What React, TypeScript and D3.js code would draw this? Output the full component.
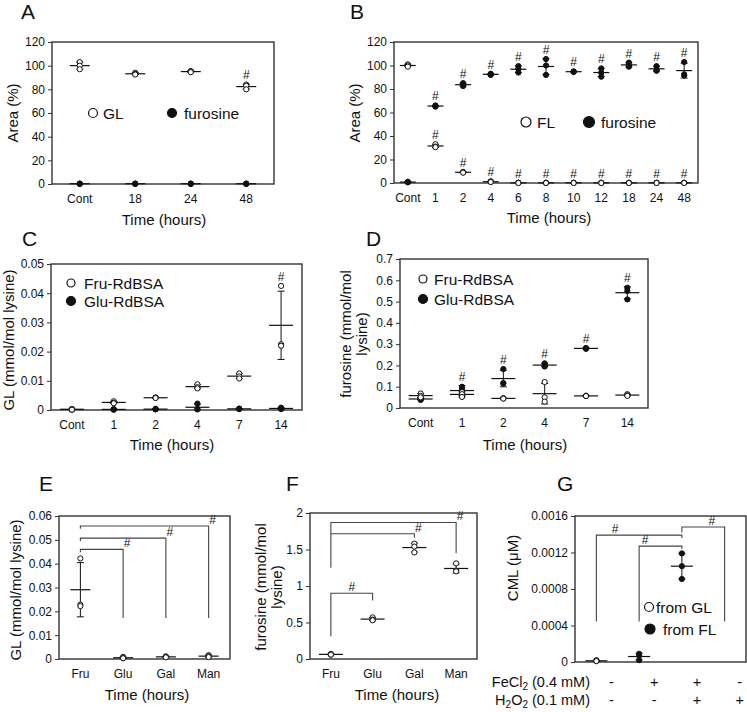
import { useEffect, useRef } from "react";
import * as d3 from "d3";

const FONT = "'Liberation Sans', Arial, Helvetica, sans-serif";
const INK = "#111";
const FRAME = "#333";

// ---- A: GL vs furosine, area (%)
const timeA = ["Cont", "18", "24", "48"];
const glA = [[103, 100, 97], [94, 93, 92.5], [95.5, 95, 94.5], [84, 83, 80]];
const furA = [[0.4, 0.2, 0.1], [0.4, 0.2, 0.1], [0.4, 0.2, 0.1], [0.4, 0.2, 0.1]];
const sigGlA = [false, false, false, true];

// ---- B: FL vs furosine, area (%)
const timeB = ["Cont", "1", "2", "4", "6", "8", "10", "12", "18", "24", "48"];
const flB = [
  [101, 100, 99], [33, 31, 30.5], [9.5, 9, 8.8], [1.5, 1, 0.8], [0.3, 0.1, 0],
  [0.3, 0.1, 0], [0.3, 0.1, 0], [0.3, 0.1, 0], [0.3, 0.1, 0], [0.3, 0.1, 0], [0.3, 0.1, 0],
];
const furB = [
  [1, 0.8, 0.5], [66, 65.5, 65], [85, 83.5, 82.5], [93, 92.5, 92], [99.5, 97, 94],
  [105.5, 100, 92], [95, 94.7, 94.5], [97.5, 94, 90.5], [102.5, 100, 99], [99.5, 96.5, 95.5], [103, 92.5, 91.5],
];
const sigFlB = [false, true, true, true, true, true, true, true, true, true, true];
const sigFurB = [false, true, true, true, true, true, true, true, true, true, true];

// ---- C: GL (mmol/mol lysine)
const timeC = ["Cont", "1", "2", "4", "7", "14"];
const fruC = [
  [0.0003, 0.0002, 0.0001], [0.003, 0.0025, 0.0023], [0.0043, 0.0042, 0.0041],
  [0.0088, 0.0078, 0.0074], [0.0125, 0.0115, 0.0108], [0.0425, 0.0225, 0.022],
];
const gluC = [
  [0.0003, 0.0002, 0.0001], [0.0003, 0.0002, 0.0001], [0.0004, 0.0003, 0.0002],
  [0.0022, 0.0004, 0.0002], [0.0005, 0.0004, 0.0003], [0.0008, 0.0005, 0.0003],
];
const sigFruC = [false, false, false, false, false, true];

// ---- D: furosine (mmol/mol lysine)
const fruD = [
  [0.068, 0.057, 0.05], [0.075, 0.065, 0.052], [0.046, 0.045, 0.044],
  [0.122, 0.05, 0.03], [0.058, 0.057, 0.056], [0.065, 0.06, 0.057],
];
const gluD = [
  [0.046, 0.043, 0.038], [0.1, 0.09, 0.056], [0.183, 0.117, 0.115],
  [0.21, 0.2, 0.195], [0.282, 0.28, 0.278], [0.565, 0.55, 0.51],
];
const sigGluD = [false, true, true, true, true, true];

// ---- E / F: sugars
const sugars = ["Fru", "Glu", "Gal", "Man"];
const glE = [[0.0422, 0.0228, 0.0222], [0.0009, 0.0004, 0.0003], [0.0011, 0.0009, 0.0007], [0.0016, 0.0012, 0.0008]];
const furF = [[0.07, 0.06, 0.06], [0.57, 0.54, 0.53], [1.58, 1.54, 1.46], [1.31, 1.21, 1.2]];
const bracketsE = [
  { from: "Fru", to: "Glu", level: 0.046, fromEnd: 0.0448, toEnd: 0.0172, hashAt: 1 },
  { from: "Fru", to: "Gal", level: 0.0507, fromEnd: 0.0495, toEnd: 0.0172, hashAt: 1 },
  { from: "Fru", to: "Man", level: 0.0558, fromEnd: 0.0546, toEnd: 0.0172, hashAt: 1 },
];
const bracketsF = [
  { from: "Fru", to: "Glu", level: 0.9, fromEnd: 0.31, toEnd: 0.8, hashAt: 0.5 },
  { from: "Fru", to: "Gal", level: 1.716, fromEnd: 1.25, toEnd: 1.66, hashAt: 1 },
  { from: "Fru", to: "Man", level: 1.87, fromEnd: 1.716, toEnd: 1.45, hashAt: 1 },
];

// ---- G: CML (uM)
const treatG = ["t1", "t2", "t3", "t4"];
const feCl2 = ["-", "+", "+", "-"];
const h2o2 = ["-", "-", "+", "+"];
const glG = [[0.00002, 0.00001, 0.00001], null, null, null];
const flG = [null, [0.00009, 0.00007, 0.00002], [0.00119, 0.00105, 0.00091], null];
const bracketsG = [
  { from: "t1", to: "t3", level: 0.00139, fromEnd: 0.000445, toEnd: 0.00136, hashAt: 0.22 },
  { from: "t2", to: "t3", level: 0.00127, fromEnd: 0.000445, toEnd: 0.00124, hashAt: 0.14 },
  { from: "t3", to: "t4", level: 0.00148, fromEnd: 0.00142, toEnd: 0.000445, hashAt: 0.7 },
];

const none = (n) => Array(n).fill(false);

function drawPanel(svg, p) {
  const g = svg.append("g");
  const x = d3.scalePoint().domain(p.cats).range([p.x0, p.x1]).padding(0.5);
  const y = d3.scaleLinear().domain([0, p.max]).range([p.y1, p.y0]);
  const ticks = d3.range(0, p.max + p.step / 2, p.step).map((v) => +v.toFixed(6));

  const ax = g
    .append("g")
    .attr("transform", `translate(${p.x0},0)`)
    .call(d3.axisLeft(y).tickValues(ticks).tickSize(4).tickPadding(3).tickFormat((d) => String(+(+d).toFixed(6))));
  ax.attr("font-family", FONT).attr("font-size", 12);
  ax.select(".domain").remove();
  ax.selectAll("line").attr("stroke", FRAME);
  ax.selectAll("text").attr("fill", INK);

  g.append("rect")
    .attr("x", p.x0).attr("y", p.y0)
    .attr("width", p.x1 - p.x0).attr("height", p.y1 - p.y0)
    .attr("fill", "none").attr("stroke", FRAME).attr("stroke-width", 1.4);

  if (p.xLabels !== false) {
    g.selectAll(".xl").data(p.cats).join("text")
      .attr("x", (d) => x(d)).attr("y", p.y1 + 19)
      .attr("text-anchor", "middle").attr("font-family", FONT).attr("font-size", 12).attr("fill", INK)
      .text((d) => d);
  }

  (p.brackets || []).forEach((b) => {
    const xa = x(b.from), xb = x(b.to);
    g.append("path")
      .attr("d", `M${xa},${y(b.fromEnd)}V${y(b.level)}H${xb}V${y(b.toEnd)}`)
      .attr("fill", "none").attr("stroke", "#444").attr("stroke-width", 1.1);
    const hx = xa + (xb - xa) * b.hashAt + (b.hashAt === 1 ? 4 : 0);
    g.append("text").attr("x", hx).attr("y", y(b.level) - 2)
      .attr("text-anchor", "middle").attr("font-family", FONT).attr("font-size", 12).attr("fill", INK).text("#");
  });

  p.series.forEach((s) => {
    s.values.forEach((vals, i) => {
      if (!vals) return;
      const cx = x(p.cats[i]);
      const m = d3.mean(vals), sd = d3.deviation(vals) || 0;
      const yt = y(m + sd), yb = y(Math.max(0, m - sd));
      g.append("line").attr("x1", cx).attr("x2", cx).attr("y1", yt).attr("y2", yb).attr("stroke", INK).attr("stroke-width", 1);
      [yt, yb].forEach((yy) =>
        g.append("line").attr("x1", cx - 3.5).attr("x2", cx + 3.5).attr("y1", yy).attr("y2", yy).attr("stroke", INK).attr("stroke-width", 1)
      );
      g.append("line").attr("x1", cx - p.half).attr("x2", cx + p.half).attr("y1", y(m)).attr("y2", y(m))
        .attr("stroke", INK).attr("stroke-width", 1.2);
      g.selectAll(null).data(vals).join("circle")
        .attr("cx", cx).attr("cy", (d) => y(d)).attr("r", 2.6)
        .attr("fill", s.open ? "#fff" : INK).attr("stroke", INK).attr("stroke-width", 1);
      if (s.sig && s.sig[i]) {
        const top = Math.min(yt, y(d3.max(vals)));
        g.append("text").attr("x", cx).attr("y", top - 5)
          .attr("text-anchor", "middle").attr("font-family", FONT).attr("font-size", 12).attr("fill", INK).text("#");
      }
    });
  });

  (p.legend || []).forEach((l) => {
    g.append("circle").attr("cx", l.x).attr("cy", l.y).attr("r", l.r || 4.5)
      .attr("fill", l.open ? "#fff" : INK).attr("stroke", INK).attr("stroke-width", 1.2);
    g.append("text").attr("x", l.tx).attr("y", l.y + 5.5)
      .attr("font-family", FONT).attr("font-size", 15.5).attr("fill", INK).text(l.label);
  });

  g.append("text").attr("x", p.letter[0]).attr("y", p.letter[1])
    .attr("font-family", FONT).attr("font-size", 21).attr("fill", INK).text(p.letter[2]);

  p.yTitle.forEach(([tx, ty, txt]) => {
    g.append("text").attr("transform", `translate(${tx},${ty}) rotate(-90)`).attr("dy", "0.35em")
      .attr("text-anchor", "middle").attr("font-family", FONT).attr("font-size", 15).attr("fill", INK).text(txt);
  });
  if (p.xTitle) {
    g.append("text").attr("x", p.xTitle[0]).attr("y", p.xTitle[1]).attr("dy", "0.35em")
      .attr("text-anchor", "middle").attr("font-family", FONT).attr("font-size", 15).attr("fill", INK).text("Time (hours)");
  }
  return x;
}

export default function App() {
  const ref = useRef(null);

  useEffect(() => {
    const svg = d3.select(ref.current);
    svg.selectAll("*").remove();

    drawPanel(svg, {
      x0: 52, x1: 274, y0: 42, y1: 184, cats: timeA, max: 120, step: 20, half: 10,
      series: [{ values: furA, open: false, sig: none(4) }, { values: glA, open: true, sig: sigGlA }],
      legend: [
        { x: 93, y: 113, tx: 103, open: true, label: "GL" },
        { x: 172, y: 113, tx: 184, open: false, label: "furosine" },
      ],
      letter: [21, 19, "A"], yTitle: [[13, 113, "Area (%)"]], xTitle: [164, 220],
    });

    drawPanel(svg, {
      x0: 394, x1: 698, y0: 42, y1: 183, cats: timeB, max: 120, step: 20, half: 8,
      series: [{ values: furB, open: false, sig: sigFurB }, { values: flB, open: true, sig: sigFlB }],
      legend: [
        { x: 526, y: 122, tx: 537, open: true, label: "FL", r: 5 },
        { x: 589, y: 122, tx: 601, open: false, label: "furosine", r: 5.5 },
      ],
      letter: [350, 19, "B"], yTitle: [[355, 113, "Area (%)"]], xTitle: [549, 218],
    });

    drawPanel(svg, {
      x0: 51, x1: 302, y0: 264, y1: 410, cats: timeC, max: 0.05, step: 0.01, half: 12,
      series: [{ values: gluC, open: false, sig: none(6) }, { values: fruC, open: true, sig: sigFruC }],
      legend: [
        { x: 71, y: 283, tx: 84, open: true, label: "Fru-RdBSA", r: 4 },
        { x: 71, y: 301, tx: 84, open: false, label: "Glu-RdBSA", r: 4.5 },
      ],
      letter: [22, 246, "C"], yTitle: [[9, 340, "GL (mmol/mol lysine)"]], xTitle: [172, 445],
    });

    drawPanel(svg, {
      x0: 400, x1: 648, y0: 259, y1: 408, cats: timeC, max: 0.7, step: 0.1, half: 12,
      series: [{ values: gluD, open: false, sig: sigGluD }, { values: fruD, open: true, sig: none(6) }],
      legend: [
        { x: 423, y: 279, tx: 434, open: true, label: "Fru-RdBSA", r: 4 },
        { x: 423, y: 299, tx: 434, open: false, label: "Glu-RdBSA", r: 4.5 },
      ],
      letter: [366, 246, "D"],
      yTitle: [[346, 334, "furosine (mmol/mol"], [362, 334, "lysine)"]], xTitle: [525, 445],
    });

    drawPanel(svg, {
      x0: 59, x1: 230, y0: 516, y1: 659, cats: sugars, max: 0.06, step: 0.01, half: 10,
      series: [{ values: glE, open: true, sig: none(4) }], brackets: bracketsE,
      letter: [39, 491, "E"], yTitle: [[16, 590, "GL (mmol/mol lysine)"]], xTitle: [147, 695],
    });

    drawPanel(svg, {
      x0: 310, x1: 477, y0: 513, y1: 659, cats: sugars, max: 2, step: 0.5, half: 12,
      series: [{ values: furF, open: true, sig: none(4) }], brackets: bracketsF,
      letter: [286, 491, "F"],
      yTitle: [[261, 587, "furosine (mmol/mol"], [277, 587, "lysine)"]], xTitle: [397, 695],
    });

    const xg = drawPanel(svg, {
      x0: 575, x1: 746, y0: 516, y1: 662, cats: treatG, max: 0.0016, step: 0.0004, half: 11, xLabels: false,
      series: [{ values: glG, open: true, sig: none(4) }, { values: flG, open: false, sig: none(4) }],
      brackets: bracketsG,
      legend: [
        { x: 649, y: 607, tx: 656, open: true, label: "from GL", r: 4.5 },
        { x: 650, y: 629, tx: 663, open: false, label: "from FL", r: 5 },
      ],
      letter: [557, 491, "G"], yTitle: [[513, 568, "CML (\u03bcM)"]],
    });

    // treatment rows under G
    const rows = [
      { y: 687, parts: [["FeCl", 0], ["2", 1], [" (0.4 mM)", 0]], signs: feCl2 },
      { y: 705, parts: [["H", 0], ["2", 1], ["O", 0], ["2", 1], [" (0.1 mM)", 0]], signs: h2o2 },
    ];
    rows.forEach((r) => {
      const t = svg.append("text").attr("x", 590).attr("y", r.y).attr("text-anchor", "end")
        .attr("font-family", FONT).attr("font-size", 14.5).attr("fill", INK);
      let shifted = false;
      r.parts.forEach(([s, sub]) => {
        const dy = sub && !shifted ? 2.5 : !sub && shifted ? -2.5 : 0;
        shifted = !!sub;
        t.append("tspan").attr("dy", dy).attr("font-size", sub ? 10 : 14.5).text(s);
      });
      svg.selectAll(null).data(r.signs).join("text")
        .attr("x", (d, i) => xg(treatG[i]) + 15).attr("y", r.y)
        .attr("text-anchor", "middle").attr("font-family", FONT).attr("font-size", 14.5).attr("fill", INK)
        .text((d) => d);
    });
  }, []);

  return <svg ref={ref} width={747} height={712} style={{ position: "absolute", left: 0, top: 0, background: "#fff" }} />;
}
